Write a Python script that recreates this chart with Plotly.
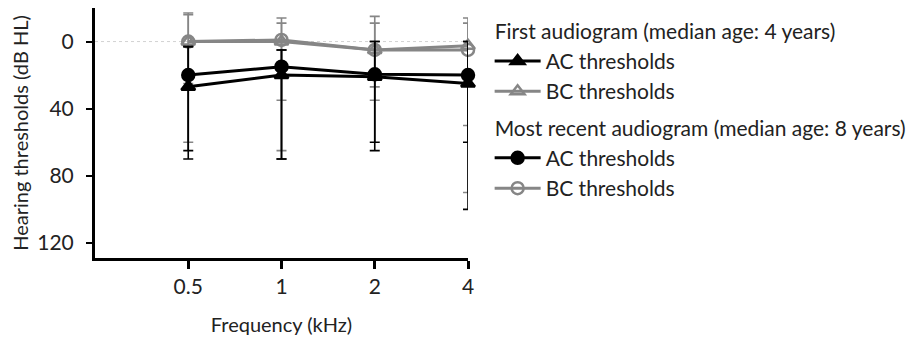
import plotly.graph_objects as go

freqs = ["0.5", "1", "2", "4"]

# First audiogram
ac_first = [27, 20, 21, 25]
ac_first_upper = [3, 5, 0, 0]
ac_first_lower = [70, 70, 65, 100]
bc_first = [0, 0, 5, 2.5]
bc_first_upper = [-17, -14, -15, -14]
bc_first_lower = [60, 65, 35, 90]

# Most recent audiogram
ac_recent = [20, 15, 19.5, 20]
ac_recent_upper = [3, 5, 0, 0]
ac_recent_lower = [65, 70, 60, 60]
bc_recent = [0, -1, 5, 5]
bc_recent_upper = [-16, -11, -11, -11]
bc_recent_lower = [25, 35, 27, 50]

GRAY = "#868686"
BLACK = "#000000"
FONT = "Lato"
TXT = "#222222"


def err(vals, upper, lower):
    return dict(
        type="data",
        symmetric=False,
        array=[lo - v for v, lo in zip(vals, lower)],
        arrayminus=[v - up for v, up in zip(vals, upper)],
    )


fig = go.Figure()


def add(vals, upper, lower, color, symbol, name, group, gtitle, rank):
    e = err(vals, upper, lower)
    e.update(color=color, thickness=1.6, width=5)
    fig.add_trace(go.Scatter(
        x=freqs, y=vals, mode="lines+markers", name=name,
        line=dict(color=color, width=3),
        marker=dict(symbol=symbol, size=12, color=color,
                    line=dict(color=color, width=2.5)),
        error_y=e, cliponaxis=False,
        legendgroup=group, legendgrouptitle_text=gtitle, legendrank=rank,
    ))


g1 = "First audiogram (median age: 4 years)"
g2 = "Most recent audiogram (median age: 8 years)"
add(bc_first, bc_first_upper, bc_first_lower, GRAY, "triangle-up-open", "BC thresholds", "g1", g1, 2)
add(bc_recent, bc_recent_upper, bc_recent_lower, GRAY, "circle-open", "BC thresholds", "g2", g2, 4)
add(ac_first, ac_first_upper, ac_first_lower, BLACK, "triangle-up", "AC thresholds", "g1", g1, 1)
add(ac_recent, ac_recent_upper, ac_recent_lower, BLACK, "circle", "AC thresholds", "g2", g2, 3)

fig.add_hline(y=0, line=dict(color="#d2d2d2", width=1, dash="dot"), layer="below")

fig.update_layout(
    width=908, height=336,
    margin=dict(l=87, r=443, t=0, b=86),
    plot_bgcolor="white", paper_bgcolor="white",
    font=dict(family=FONT, size=20, color=TXT),
    showlegend=True,
    legend=dict(
        x=1.058, y=0.99, xanchor="left", yanchor="top",
        traceorder="grouped", tracegroupgap=6,
        itemwidth=46,
        font=dict(size=21, color=TXT),
        grouptitlefont=dict(size=21, color=TXT),
        bgcolor="rgba(0,0,0,0)",
    ),
    xaxis=dict(
        type="category", range=[-1, 3],
        showline=True, linecolor="black", linewidth=3,
        ticks="outside", ticklen=8, tickwidth=3, tickcolor="black",
        showgrid=False, zeroline=False,
        tickfont=dict(size=21),
        title=dict(text="Frequency (kHz)", standoff=21, font=dict(size=20)),
    ),
    yaxis=dict(
        range=[129, -20], tickvals=[0, 40, 80, 120],
        showline=True, linecolor="black", linewidth=3,
        ticks="outside", ticklen=6, tickwidth=2, tickcolor="black",
        ticklabelstandoff=8,
        showgrid=False, zeroline=False,
        tickfont=dict(size=21),
        title=dict(text="Hearing thresholds (dB HL)", standoff=8, font=dict(size=20)),
    ),
)

fig.write_html("out.html")
